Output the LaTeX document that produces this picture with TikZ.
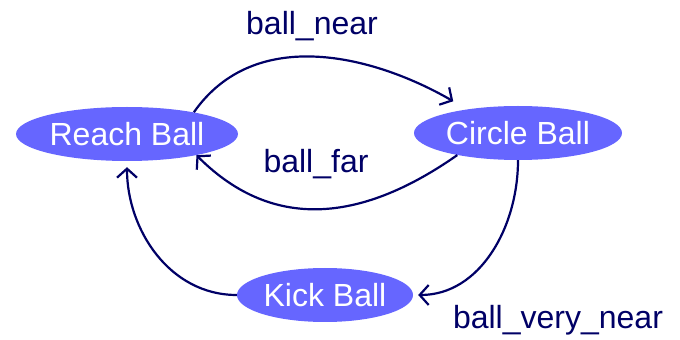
\documentclass[tikz,border=0pt]{standalone}
\usepackage{fontspec}
\setmainfont{Liberation Sans}
\usetikzlibrary{shapes.geometric,arrows.meta}
\definecolor{statefill}{RGB}{102,102,255}
\definecolor{navy}{RGB}{0,0,102}
\begin{document}
\begin{tikzpicture}[x=1pt,y=1pt,
	state/.style={ellipse,fill=statefill,text=white,inner sep=0pt,minimum height=54pt,font=\fontsize{32}{38}\selectfont},
	trans/.style={draw=navy,line width=2.2pt,-{Straight Barb[length=9pt,width=20pt,line width=2.2pt]}},
	lbl/.style={text=navy,anchor=base,inner sep=0pt,font=\fontsize{32}{38}\selectfont}]
	\useasboundingbox (0,0) rectangle (680,340);

	\node[state,minimum width=222pt] (reachball) at (127,206) {Reach Ball};
	\node[state,minimum width=208pt] (circleball) at (518,207) {Circle Ball};
	\node[state,minimum width=176pt] (kickball) at (325,45) {Kick Ball};

	\draw[trans,shorten >=16pt] (reachball.18) to[out=55,in=150] (circleball.155);
	\draw[trans,looseness=1.1] (circleball.200) to[out=215,in=-45] (reachball.-17);
	\draw[trans,shorten >=5pt] (circleball.south) to[out=270,in=0] (kickball.east);
	\draw[trans,shorten >=6pt] (kickball.west) to[out=180,in=270] (reachball.south);

	\node[lbl] (near) at (312,305) {ball\_near};
	\node[lbl] (far) at (316,167) {ball\_far};
	\node[lbl] (verynear) at (558,11) {ball\_very\_near};
\end{tikzpicture}
\end{document}
